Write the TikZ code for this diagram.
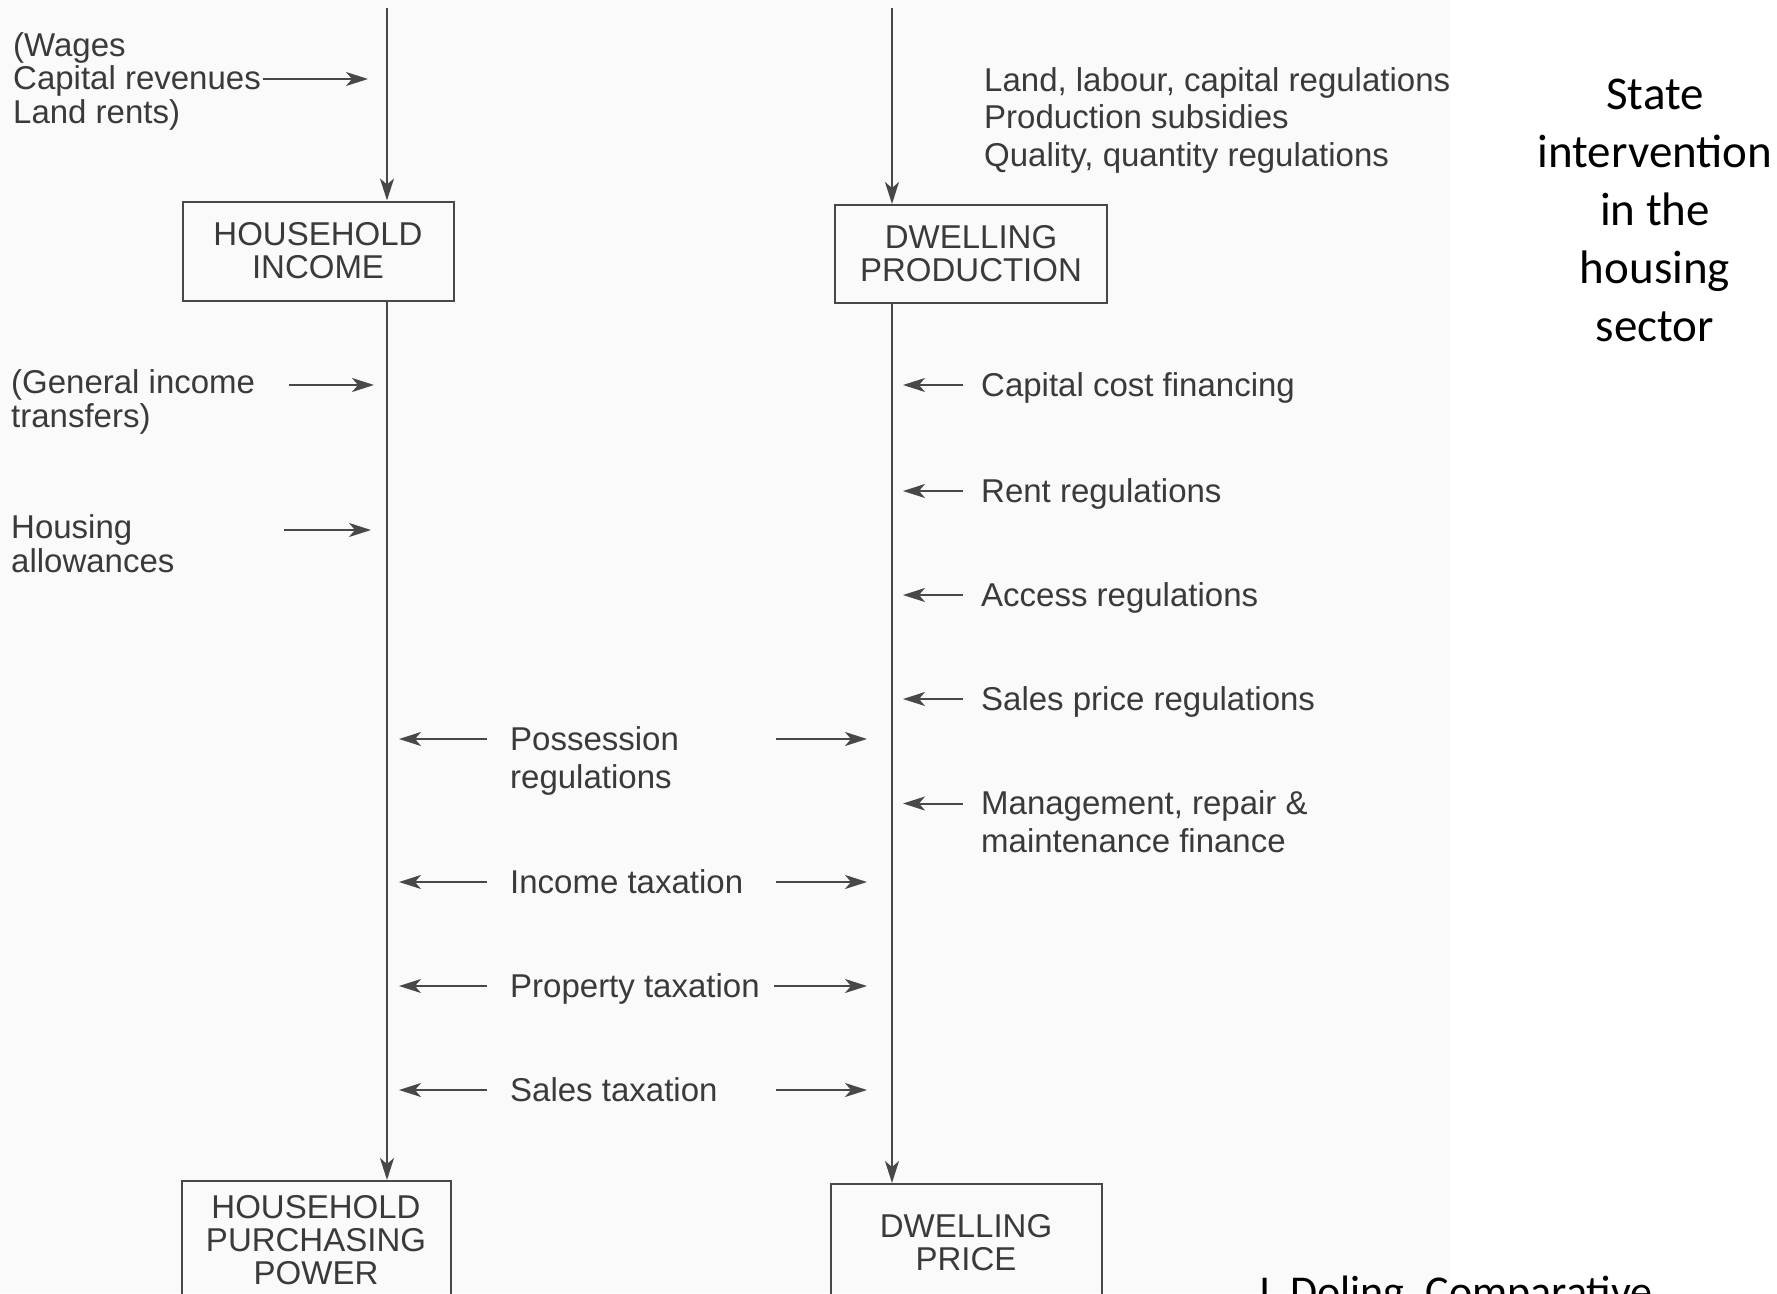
\documentclass[tikz,border=0pt]{standalone}
\usepackage{fontspec}
\setmainfont{Liberation Sans}
\newfontfamily\calib{Carlito}
\usetikzlibrary{arrows.meta}
\definecolor{ink}{HTML}{484848}
\definecolor{txt}{HTML}{3A3A3A}
\begin{document}
\begin{tikzpicture}[x=1pt,y=-1pt,
  lbl/.style={font=\fontsize{33}{33.5}\selectfont, text=txt, inner sep=0pt, align=left, anchor=base west},
  lblw/.style={lbl, font=\fontsize{33}{37.5}\selectfont},
  box/.style={draw=ink, line width=2pt, font=\fontsize{33}{33}\selectfont, text=txt, align=center, inner sep=0pt},
  flow/.style={draw=ink, line width=2pt, -{Stealth[length=22pt,width=14pt,inset=6pt]}},
  side/.style={draw=ink, line width=2pt, -{Stealth[length=22pt,width=14pt,inset=6pt]}},
  big/.style={font=\calib\fontsize{47}{58}\selectfont, text=black, align=center, inner sep=0pt}]
\clip (0,0) rectangle (1777,1293);
\useasboundingbox (0,0) rectangle (1777,1293);
\fill[black!2] (0,0) rectangle (1450,1293);

% boxes
\node[box, minimum width=271pt, minimum height=99pt] (hi) at (318,251) {HOUSEHOLD\\INCOME};
\node[box, minimum width=272pt, minimum height=98pt] (dp) at (971,254) {DWELLING\\PRODUCTION};
\node[box, minimum width=269pt, minimum height=118pt] (hpp) at (316,1240) {HOUSEHOLD\\PURCHASING\\POWER};
\node[box, minimum width=271pt, minimum height=117pt] (dpr) at (966,1242.5) {DWELLING\\PRICE};

% main flows
\coordinate (ltop) at (387,8);
\coordinate (rtop) at (892,8);
\draw[flow] (ltop) -- (ltop |- hi.north);
\draw[flow] (ltop |- hi.south) -- (ltop |- hpp.north);
\draw[flow] (rtop) -- (rtop |- dp.north);
\draw[flow] (rtop |- dp.south) -- (rtop |- dpr.north);

% upper labels (base anchor = baseline of the last line)
\node[lbl] (wages) at (13,123) {(Wages\\Capital revenues\\Land rents)};
\coordinate (wa1) at (263,79); \coordinate (wa2) at (368,79);
\draw[side] (wa1) -- (wa2);
\node[lblw] (landlab) at (984,166) {Land, labour, capital regulations\\Production subsidies\\Quality, quantity regulations};

% left side
\node[lbl] (geninc) at (11,427) {(General income\\transfers)};
\coordinate (ga1) at (289,385); \coordinate (ga2) at (374,385);
\draw[side] (ga1) -- (ga2);
\node[lbl] (housall) at (11,572) {Housing\\allowances};
\coordinate (ha1) at (284,530); \coordinate (ha2) at (371,530);
\draw[side] (ha1) -- (ha2);

% right side
\node[lbl] (ccf) at (981,396) {Capital cost financing};
\coordinate (c1) at (963,385); \coordinate (c2) at (903,385);
\draw[side] (c1) -- (c2);
\node[lbl] (rent) at (981,502) {Rent regulations};
\coordinate (r1) at (963,491); \coordinate (r2) at (903,491);
\draw[side] (r1) -- (r2);
\node[lbl] (access) at (981,606) {Access regulations};
\coordinate (a1) at (963,595); \coordinate (a2) at (903,595);
\draw[side] (a1) -- (a2);
\node[lbl] (salesprice) at (981,710) {Sales price regulations};
\coordinate (s1) at (963,699); \coordinate (s2) at (903,699);
\draw[side] (s1) -- (s2);
\node[lblw] (mgmt) at (981,852) {Management, repair \&\\maintenance finance};
\coordinate (m1) at (963,803.5); \coordinate (m2) at (903,803.5);
\draw[side] (m1) -- (m2);

% middle
\node[lbl, font=\fontsize{33}{38.5}\selectfont] (poss) at (510,788.5) {Possession\\regulations};
\coordinate (p1) at (487,739); \coordinate (p2) at (399,739);
\coordinate (p3) at (776,739); \coordinate (p4) at (867,739);
\draw[side] (p1) -- (p2); \draw[side] (p3) -- (p4);
\node[lbl] (inctax) at (510,893) {Income taxation};
\coordinate (i1) at (487,882); \coordinate (i2) at (399,882);
\coordinate (i3) at (776,882); \coordinate (i4) at (867,882);
\draw[side] (i1) -- (i2); \draw[side] (i3) -- (i4);
\node[lbl] (proptax) at (510,997) {Property taxation};
\coordinate (q1) at (487,986); \coordinate (q2) at (399,986);
\coordinate (q3) at (774,986); \coordinate (q4) at (867,986);
\draw[side] (q1) -- (q2); \draw[side] (q3) -- (q4);
\node[lbl] (saletax) at (510,1101) {Sales taxation};
\coordinate (t1) at (487,1090); \coordinate (t2) at (399,1090);
\coordinate (t3) at (776,1090); \coordinate (t4) at (867,1090);
\draw[side] (t1) -- (t2); \draw[side] (t3) -- (t4);

% title and citation
\node[big] (state) at (1655,210) {State\\intervention\\in the\\housing\\sector};
\node[font=\calib\fontsize{44}{50}\selectfont, anchor=base, inner sep=0pt] (cite) at (1454,1306) {J. Doling, Comparative};
\end{tikzpicture}
\end{document}
